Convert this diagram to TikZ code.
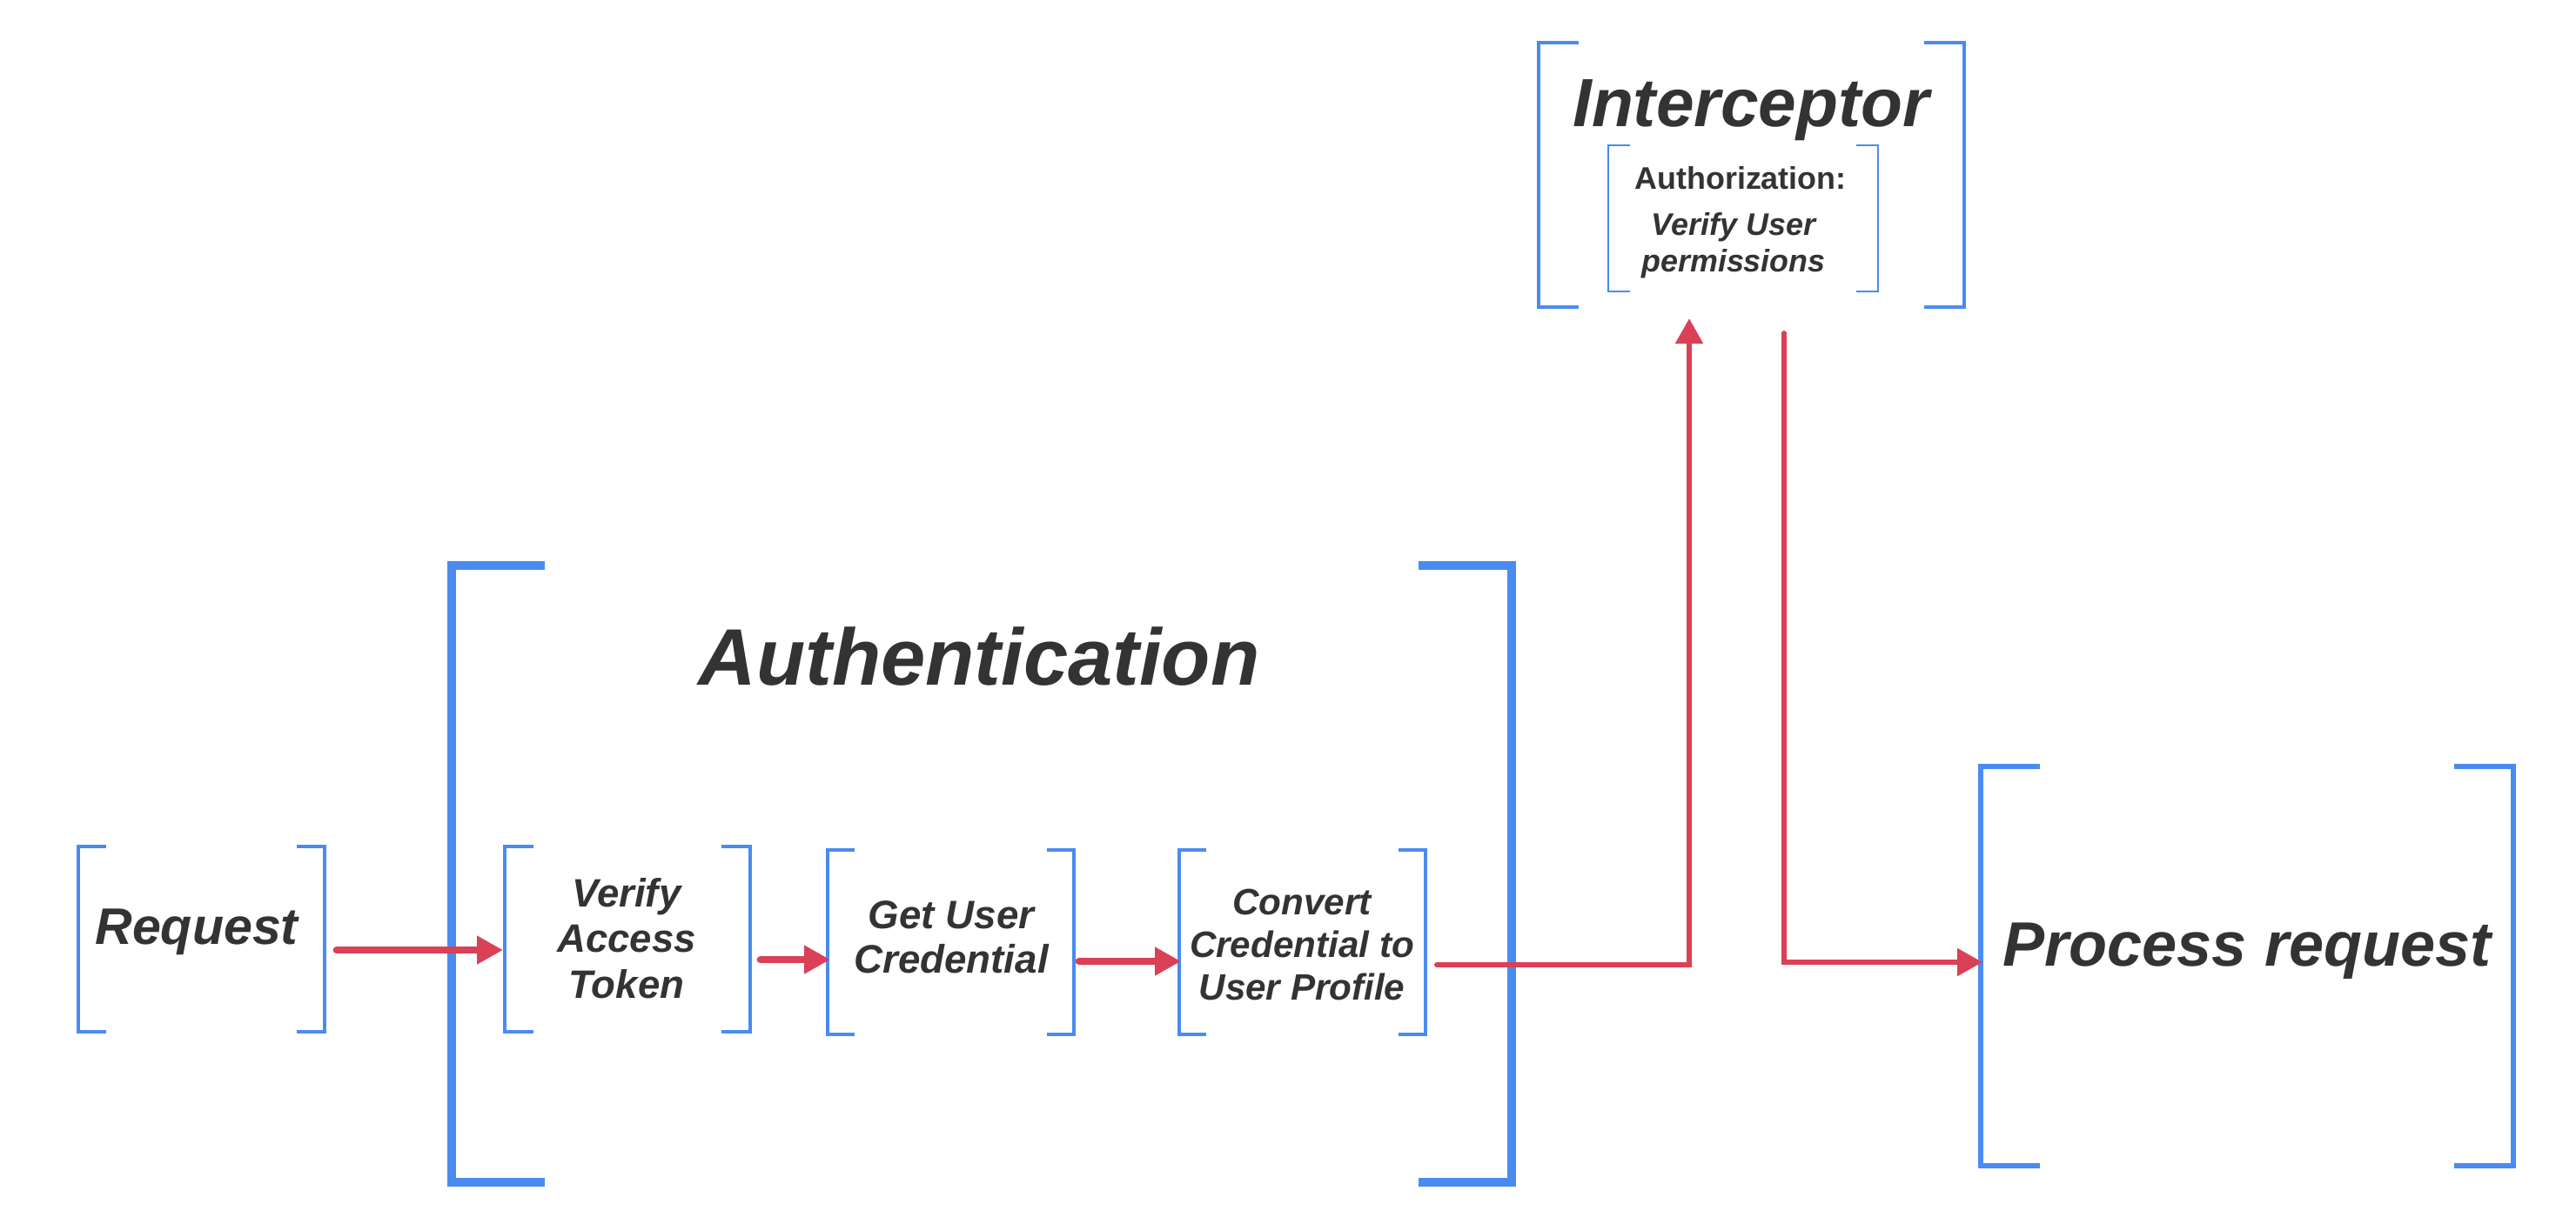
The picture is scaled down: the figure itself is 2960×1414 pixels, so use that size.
\documentclass[tikz,border=0pt]{standalone}
\usepackage{fontspec}
\setmainfont{Liberation Sans}
\usetikzlibrary{arrows.meta,calc}
\definecolor{blu}{RGB}{74,139,240}
\definecolor{rd}{RGB}{218,64,86}
\definecolor{tc}{RGB}{51,51,51}
\newcommand\fsz[2]{\fontsize{#1pt}{#2pt}\selectfont}
\newcommand\bracketpair[3]{%
  \draw[bk,line width=#3] ($(#1.north west)+(#2,0)$) -- (#1.north west) -- (#1.south west) -- ($(#1.south west)+(#2,0)$);
  \draw[bk,line width=#3] ($(#1.north east)-(#2,0)$) -- (#1.north east) -- (#1.south east) -- ($(#1.south east)-(#2,0)$);}
\begin{document}
\begin{tikzpicture}[x=0.01cm,y=-0.01cm,
  bx/.style 2 args={minimum width=#1*0.01cm, minimum height=#2*0.01cm, inner sep=0pt, outer sep=0pt},
  bk/.style={draw=blu, line join=miter},
  txt/.style={text=tc, align=center, inner sep=0pt, anchor=base},
  ar/.style={draw=rd, line width=2.5pt, line cap=round, -{Triangle[length=8.5pt,width=8.8pt]}},
  ar2/.style={draw=rd, line width=1.7pt, line cap=round, line join=miter, -{Triangle[length=8.2pt,width=8.7pt]}},
]
\useasboundingbox (0,0) rectangle (2960,1414);

% bracket frames
\node[bx={283}{213}] (req) at (231.5,1079.5) {};
\node[bx={282}{213}] (ver) at (721,1079.5) {};
\node[bx={283}{212}] (get) at (1092.5,1083) {};
\node[bx={283}{212}] (conv) at (1496.5,1083) {};
\node[bx={1218}{709}] (auth) at (1128,1004.5) {};
\node[bx={489}{304}] (intc) at (2012.5,201) {};
\node[bx={310}{168}] (authz) at (2003,251) {};
\node[bx={612}{459}] (proc) at (2582,1110.5) {};

\bracketpair{req}{32}{0.95pt}
\bracketpair{ver}{33}{0.95pt}
\bracketpair{get}{31}{0.95pt}
\bracketpair{conv}{31}{0.95pt}
\bracketpair{auth}{107}{2.85pt}
\bracketpair{intc}{46}{1.1pt}
\bracketpair{authz}{25}{0.7pt}
\bracketpair{proc}{68}{1.85pt}

% texts (anchor base = baseline of the last line)
\node[txt, font=\bfseries\itshape\fsz{16.8}{20}] (reqT) at (226,1085) {Request};
\node[txt, font=\bfseries\itshape\fsz{26.2}{31}] (authT) at (1125,787) {Authentication};
\node[txt, font=\bfseries\itshape\fsz{12.95}{14.8}] (verT) at (720,1147) {Verify\\Access\\Token};
\node[txt, font=\bfseries\itshape\fsz{13}{14.5}] (getT) at (1093,1118) {Get User\\Credential};
\node[txt, font=\bfseries\itshape\fsz{12}{13.8}] (convT) at (1496,1149) {Convert\\Credential to\\User Profile};
\node[txt, font=\bfseries\itshape\fsz{22.3}{26}] (intT) at (2012,145) {Interceptor};
\node[txt, font=\bfseries\fsz{10.2}{12}] (azT) at (2000,217) {Authorization:};
\node[txt, font=\bfseries\itshape\fsz{10.2}{11.7}] (vupT) at (1992,312) {Verify User\\permissions};
\node[txt, font=\bfseries\itshape\fsz{20.5}{24}] (procT) at (2582,1110) {Process request};

% connectors
\draw[ar] ($(req.east)+(14,12.5)$) -- ($(ver.west)+(-2,12.5)$);
\draw[ar] ($(ver.east)+(12,23.5)$) -- ($(get.west)+(3,20)$);
\draw[ar] ($(get.east)+(6,22)$) -- ($(conv.west)+(2,22)$);
\draw[ar2] ($(conv.east)+(13,26)$) -| ($(intc.south)+(-71.5,13)$);
\draw[ar2] ($(intc.south)+(37.5,30)$) |- ($(proc.west)+(2,-4.5)$);
\end{tikzpicture}
\end{document}
